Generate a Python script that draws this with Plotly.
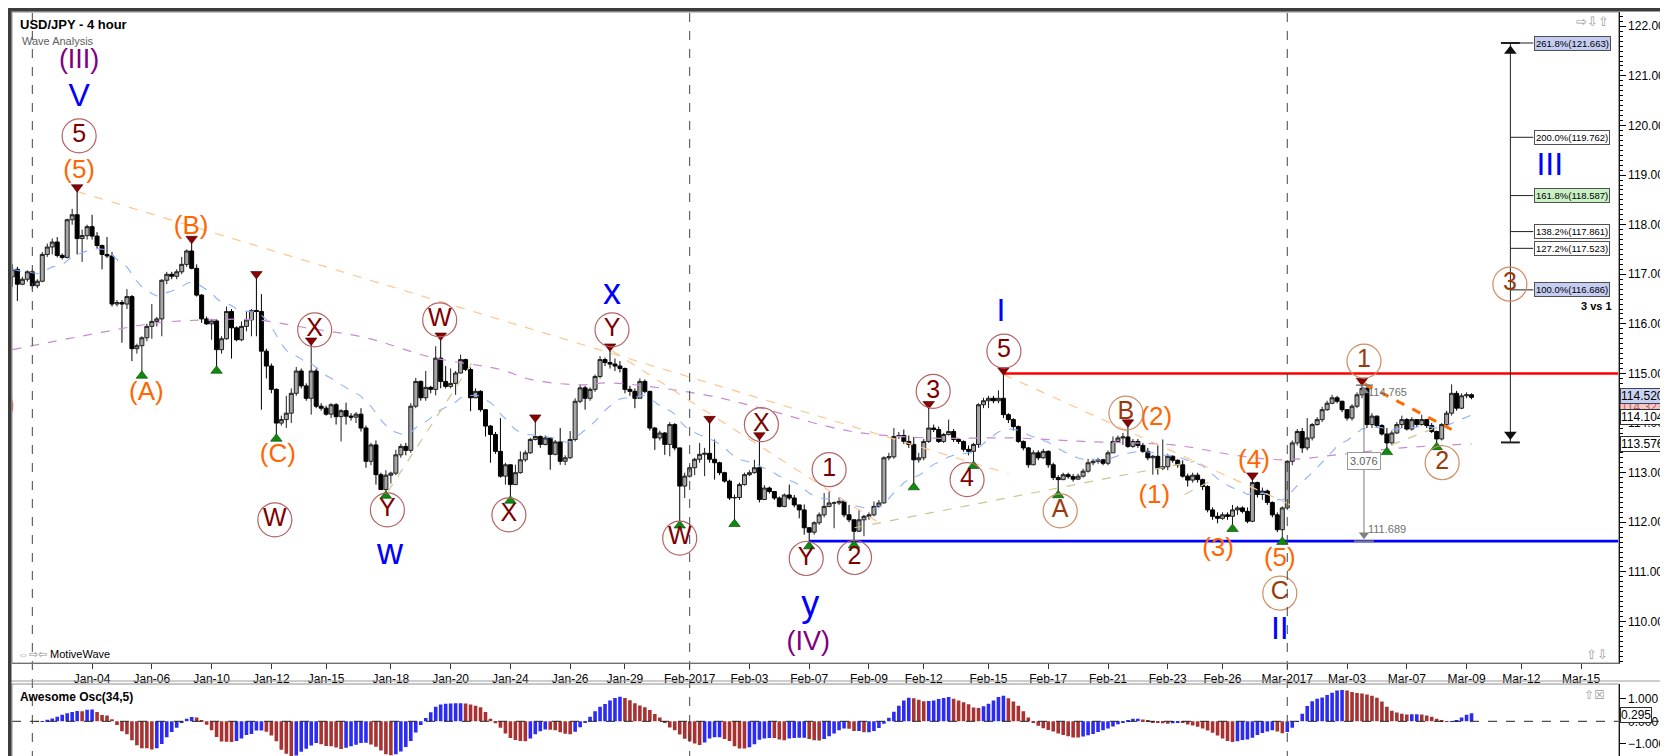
import numpy as np
import pandas as pd
import plotly.graph_objects as go

W, H = 1668, 756
FONT = "Liberation Sans, Arial, sans-serif"

# ---------------- data ----------------
# USD/JPY 4 hour bars, first visible bar Dec-30 08:00, last Mar-09 04:00 (bar index -4 .. 289)
opens = [116.95, 117.10, 116.80, 116.90,
         117.05, 116.77, 116.86, 117.40, 117.55, 117.65, 117.38, 117.34, 118.10, 118.20,
         117.72, 117.78, 117.96, 117.77, 117.58, 117.40, 117.37, 116.40, 116.43, 116.40,
         116.55, 115.50, 115.56, 115.72, 115.95, 116.05, 116.10, 116.88, 117.00, 116.96,
         117.05, 117.20, 117.47, 117.12, 116.58, 116.10, 116.00, 116.06, 115.48, 115.70,
         116.25, 115.92, 115.68, 115.95, 116.08, 116.27, 116.25, 115.45, 115.15, 114.68,
         114.00, 114.07, 114.20, 114.60, 115.05, 114.75, 114.50, 115.05, 114.34, 114.30,
         114.18, 114.37, 114.13, 114.25, 114.14, 114.12, 114.18, 113.90, 113.23, 113.56,
         112.96, 112.66, 112.95, 112.99, 113.36, 113.53, 113.45, 114.34, 114.84, 114.51,
         114.72, 114.68, 115.31, 114.84, 114.74, 114.80, 115.01, 115.28, 115.08, 114.51,
         114.64, 114.27, 113.94, 113.77, 113.43, 112.93, 113.16, 112.76, 113.00, 113.26,
         113.40, 113.67, 113.73, 113.57, 113.70, 113.37, 113.62, 113.23, 113.30, 113.67,
         114.44, 114.71, 114.50, 114.68, 114.94, 115.28, 115.22, 115.19, 115.15, 115.10,
         114.68, 114.64, 114.50, 114.84, 114.64, 113.90, 113.70, 113.80, 113.57, 113.97,
         113.50, 112.73, 112.93, 113.10, 113.27, 113.37, 113.39, 113.27, 113.20, 113.00,
         112.83, 112.49, 112.50, 112.76, 112.96, 113.00, 113.10, 112.46, 112.69, 112.62,
         112.49, 112.32, 112.55, 112.49, 112.35, 112.25, 111.89, 111.80, 111.99, 112.15,
         112.32, 112.39, 112.39, 112.42, 112.15, 112.05, 111.82, 112.05, 112.12, 112.15,
         112.32, 112.39, 113.30, 113.32, 113.73, 113.75, 113.63, 113.57, 113.26, 113.30,
         113.63, 113.90, 113.87, 113.63, 113.77, 113.83, 113.67, 113.63, 113.47, 113.43,
         113.57, 114.37, 114.45, 114.50, 114.45, 114.50, 114.17, 114.07, 113.93, 113.63,
         113.50, 113.16, 113.40, 113.30, 113.43, 113.16, 112.90, 112.86, 112.96, 112.92,
         112.87, 112.93, 113.03, 113.20, 113.23, 113.26, 113.19, 113.40, 113.63, 113.70,
         113.72, 113.53, 113.63, 113.55, 113.43, 113.30, 113.33, 113.09, 113.12, 113.33,
         113.25, 113.16, 112.93, 112.85, 112.95, 112.86, 112.72, 112.25, 112.12, 112.08,
         112.15, 112.12, 112.25, 112.29, 112.22, 112.02, 112.80, 112.56, 112.63, 112.40,
         112.15, 111.85, 112.29, 113.23, 113.60, 113.83, 113.50, 113.70, 113.97, 114.07,
         114.27, 114.40, 114.51, 114.44, 114.27, 114.10, 114.34, 114.57, 114.70, 113.97,
         114.14, 113.95, 113.78, 113.60, 113.80, 113.97, 114.07, 113.88, 114.07, 113.97,
         114.07, 113.95, 113.83, 113.68, 113.97, 114.20, 114.60, 114.30, 114.55, 114.57]
highs = [117.20, 117.15, 116.95, 117.08,
         117.10, 116.90, 117.45, 117.62, 117.72, 117.75, 117.42, 118.12, 118.32, 118.67,
         117.90, 118.00, 118.20, 117.85, 117.60, 117.75, 117.45, 116.48, 116.48, 116.70,
         116.58, 115.60, 115.75, 116.00, 116.40, 116.14, 116.90, 117.05, 117.05, 117.10,
         117.35, 117.50, 117.63, 117.20, 116.60, 116.15, 116.10, 116.10, 115.75, 116.35,
         116.30, 115.95, 116.05, 116.25, 116.30, 116.92, 116.60, 115.50, 115.20, 114.70,
         114.15, 114.55, 114.70, 115.13, 115.10, 114.80, 115.58, 115.10, 114.40, 114.35,
         114.40, 114.40, 114.28, 114.41, 114.20, 114.22, 114.30, 113.95, 113.60, 113.65,
         113.00, 113.05, 113.02, 113.46, 113.58, 113.60, 114.40, 114.91, 114.86, 115.05,
         114.75, 115.55, 115.68, 115.15, 115.10, 115.05, 115.38, 115.30, 115.12, 114.70,
         114.66, 114.28, 113.96, 113.82, 114.10, 113.20, 113.16, 113.16, 113.43, 113.45,
         113.70, 114.03, 113.75, 113.75, 113.72, 113.66, 113.90, 113.35, 113.84, 114.50,
         114.78, 114.75, 114.72, 114.98, 115.35, 115.32, 115.46, 115.30, 115.25, 115.12,
         114.75, 114.70, 114.90, 114.88, 114.65, 113.92, 113.85, 113.82, 114.02, 114.00,
         113.50, 113.00, 113.15, 113.30, 113.60, 113.50, 114.00, 113.67, 113.22, 113.02,
         112.86, 112.56, 112.80, 113.00, 113.05, 113.26, 113.67, 112.75, 112.72, 112.63,
         112.52, 112.58, 112.76, 112.55, 112.35, 112.36, 111.90, 112.02, 112.20, 112.59,
         112.62, 112.42, 112.50, 112.45, 112.35, 112.05, 112.25, 112.15, 112.20, 112.42,
         112.45, 113.33, 113.40, 113.90, 113.82, 113.87, 113.75, 113.72, 113.40, 113.68,
         114.30, 113.97, 113.93, 113.80, 114.07, 113.88, 113.70, 113.65, 113.55, 113.60,
         114.40, 114.51, 114.55, 114.55, 114.66, 114.98, 114.20, 114.10, 113.95, 113.65,
         113.52, 113.45, 113.45, 113.48, 113.45, 113.20, 112.95, 113.00, 113.00, 112.97,
         112.98, 113.08, 113.28, 113.28, 113.30, 113.28, 113.45, 113.73, 113.75, 113.80,
         113.93, 113.68, 113.68, 113.60, 113.50, 113.36, 113.55, 113.67, 113.38, 113.35,
         113.27, 113.25, 112.98, 113.00, 113.00, 112.88, 112.75, 112.30, 112.20, 112.20,
         112.20, 112.35, 112.33, 112.32, 112.30, 112.86, 112.82, 112.70, 112.66, 112.42,
         112.20, 112.32, 113.25, 113.65, 113.88, 113.90, 114.10, 114.00, 114.12, 114.33,
         114.45, 114.57, 114.55, 114.45, 114.28, 114.38, 114.62, 114.77, 114.75, 114.20,
         114.15, 113.98, 113.90, 113.85, 114.02, 114.15, 114.10, 114.12, 114.08, 114.17,
         114.08, 114.00, 113.85, 114.00, 114.25, 114.78, 114.65, 114.60, 114.62, 114.60]
lows = [116.75, 116.46, 116.78, 116.85,
        116.70, 116.72, 116.84, 117.35, 117.40, 117.34, 117.30, 117.32, 118.00, 117.40,
        117.25, 117.70, 117.70, 117.53, 117.10, 117.33, 116.35, 116.35, 115.62, 116.30,
        115.25, 115.40, 115.04, 115.65, 115.70, 115.95, 115.75, 116.80, 116.90, 116.90,
        117.00, 117.15, 117.10, 116.55, 116.02, 115.98, 115.68, 115.14, 115.40, 115.68,
        115.30, 115.65, 115.65, 115.85, 115.75, 115.75, 114.27, 114.90, 114.60, 113.77,
        113.95, 113.90, 114.00, 114.55, 114.70, 114.45, 114.17, 114.30, 114.25, 114.15,
        114.10, 113.97, 113.63, 113.97, 114.05, 114.00, 113.83, 113.10, 113.15, 112.76,
        112.65, 112.62, 112.78, 112.95, 113.30, 113.35, 113.40, 114.30, 114.45, 114.45,
        114.60, 114.56, 114.70, 114.70, 114.70, 114.57, 115.00, 115.05, 114.24, 114.50,
        114.23, 113.73, 113.20, 113.38, 112.90, 112.76, 112.52, 112.75, 112.98, 113.22,
        113.38, 113.65, 113.50, 113.55, 113.06, 113.35, 113.16, 113.15, 113.28, 113.63,
        114.40, 114.27, 114.45, 114.63, 114.90, 115.15, 115.10, 115.05, 115.02, 114.60,
        114.55, 114.30, 114.50, 114.60, 113.85, 113.46, 113.65, 113.36, 113.33, 113.45,
        112.02, 112.49, 112.90, 112.95, 113.20, 112.93, 113.20, 112.86, 112.95, 112.80,
        112.45, 112.05, 112.45, 112.74, 112.93, 112.98, 112.40, 112.45, 112.58, 112.45,
        112.30, 112.30, 112.45, 112.30, 112.08, 111.75, 111.60, 111.75, 111.95, 112.10,
        112.30, 111.88, 112.35, 112.10, 112.00, 111.62, 111.80, 111.72, 112.05, 112.12,
        112.30, 112.38, 113.25, 113.28, 113.68, 113.58, 113.50, 112.79, 113.20, 113.25,
        113.60, 113.82, 113.60, 113.60, 113.75, 113.62, 113.58, 113.42, 113.35, 113.22,
        113.50, 114.30, 114.30, 114.40, 114.40, 114.10, 114.00, 113.85, 113.60, 113.45,
        113.10, 113.15, 113.25, 113.28, 113.10, 112.85, 112.63, 112.85, 112.88, 112.82,
        112.85, 112.90, 113.00, 113.15, 113.18, 113.15, 113.15, 113.40, 113.60, 113.56,
        113.50, 113.50, 113.50, 113.40, 113.25, 112.96, 112.96, 113.05, 113.05, 113.20,
        113.10, 112.90, 112.72, 112.80, 112.80, 112.65, 112.20, 112.05, 111.98, 112.05,
        112.05, 111.95, 112.15, 112.18, 111.98, 112.00, 112.50, 112.45, 112.35, 112.10,
        111.80, 111.69, 112.25, 113.15, 113.55, 113.40, 113.45, 113.65, 113.95, 114.02,
        114.25, 114.38, 114.40, 114.22, 114.05, 114.05, 114.30, 114.50, 113.90, 113.90,
        113.90, 113.75, 113.50, 113.55, 113.78, 113.90, 113.85, 113.85, 113.92, 113.95,
        113.90, 113.80, 113.60, 113.65, 113.95, 114.15, 114.25, 114.28, 114.50, 114.48]
closes = [117.10, 116.80, 116.90, 117.05,
          116.77, 116.86, 117.40, 117.55, 117.65, 117.38, 117.34, 118.10, 118.20, 117.72,
          117.78, 117.96, 117.77, 117.58, 117.40, 117.37, 116.40, 116.43, 116.40, 116.55,
          115.50, 115.56, 115.72, 115.95, 116.05, 116.10, 116.88, 117.00, 116.96, 117.05,
          117.20, 117.47, 117.12, 116.58, 116.10, 116.00, 116.06, 115.48, 115.70, 116.25,
          115.92, 115.68, 115.95, 116.08, 116.27, 116.25, 115.45, 115.15, 114.68, 114.00,
          114.07, 114.20, 114.60, 115.05, 114.75, 114.50, 115.05, 114.34, 114.30, 114.18,
          114.37, 114.13, 114.25, 114.14, 114.12, 114.18, 113.90, 113.23, 113.56, 112.96,
          112.66, 112.95, 112.99, 113.36, 113.53, 113.45, 114.34, 114.84, 114.51, 114.72,
          114.68, 115.31, 114.84, 114.74, 114.80, 115.01, 115.28, 115.08, 114.51, 114.64,
          114.27, 113.94, 113.77, 113.43, 112.93, 113.16, 112.76, 113.00, 113.26, 113.40,
          113.67, 113.73, 113.57, 113.70, 113.37, 113.62, 113.23, 113.30, 113.67, 114.44,
          114.71, 114.50, 114.68, 114.94, 115.28, 115.22, 115.19, 115.15, 115.10, 114.68,
          114.64, 114.50, 114.84, 114.64, 113.90, 113.70, 113.80, 113.57, 113.97, 113.50,
          112.73, 112.93, 113.10, 113.27, 113.37, 113.39, 113.27, 113.20, 113.00, 112.83,
          112.49, 112.50, 112.76, 112.96, 113.00, 113.10, 112.46, 112.69, 112.62, 112.49,
          112.32, 112.55, 112.49, 112.35, 112.25, 111.89, 111.80, 111.99, 112.15, 112.32,
          112.39, 112.39, 112.42, 112.15, 112.05, 111.82, 112.05, 112.12, 112.15, 112.32,
          112.39, 113.30, 113.32, 113.73, 113.75, 113.63, 113.57, 113.26, 113.30, 113.63,
          113.90, 113.87, 113.63, 113.77, 113.83, 113.67, 113.63, 113.47, 113.43, 113.57,
          114.37, 114.45, 114.50, 114.45, 114.50, 114.17, 114.07, 113.93, 113.63, 113.50,
          113.16, 113.40, 113.30, 113.43, 113.16, 112.90, 112.86, 112.96, 112.92, 112.87,
          112.93, 113.03, 113.20, 113.23, 113.26, 113.19, 113.40, 113.63, 113.70, 113.72,
          113.53, 113.63, 113.55, 113.43, 113.30, 113.33, 113.09, 113.12, 113.33, 113.25,
          113.16, 112.93, 112.85, 112.95, 112.86, 112.72, 112.25, 112.12, 112.08, 112.15,
          112.12, 112.25, 112.29, 112.22, 112.02, 112.80, 112.56, 112.63, 112.40, 112.15,
          111.85, 112.29, 113.23, 113.60, 113.83, 113.50, 113.70, 113.97, 114.07, 114.27,
          114.40, 114.51, 114.44, 114.27, 114.10, 114.34, 114.57, 114.70, 113.97, 114.14,
          113.95, 113.78, 113.60, 113.80, 113.97, 114.07, 113.88, 114.07, 113.97, 114.07,
          113.95, 113.83, 113.68, 113.97, 114.20, 114.60, 114.30, 114.55, 114.57, 114.52]

# bars carrying the red (top) and green (bottom) swing triangles
peak_bars = [9, 32, 45, 56, 82, 101, 116, 136, 146, 180, 195, 220, 245, 267]
trough_bars = [22, 37, 49, 71, 96, 130, 141, 156, 165, 177, 189, 206, 241, 251, 272, 282]

# slow moving average (purple dashed), read at a few bars
slow_ma_bars = [-4, 15, 25, 35, 45, 55, 67, 80, 94, 100, 110, 116, 135, 146, 164,
                180, 197, 211, 230, 241, 251, 262, 275, 289]
slow_ma_vals = [115.48, 115.85, 116.02, 116.08, 116.08, 115.92, 115.72, 115.33, 115.08,
                114.88, 114.77, 114.81, 114.57, 114.31, 113.84, 113.70, 113.70, 113.63,
                113.55, 113.36, 113.26, 113.36, 113.50, 113.58]

# date axis (bar index of each label)
tick_bars = [12, 24, 36, 48, 59, 72, 84, 96, 108, 119, 132, 144, 156, 168, 179, 192,
             204, 216, 228, 239, 252, 264, 276, 288, 299, 311]
tick_text = ["Jan-04", "Jan-06", "Jan-10", "Jan-12", "Jan-15", "Jan-18", "Jan-20",
             "Jan-24", "Jan-26", "Jan-29", "Feb-2017", "Feb-03", "Feb-07", "Feb-09",
             "Feb-12", "Feb-15", "Feb-17", "Feb-21", "Feb-23", "Feb-26", "Mar-2017",
             "Mar-03", "Mar-07", "Mar-09", "Mar-12", "Mar-15"]
month_bars = [0, 132, 252]

# fibonacci extension (wave 3 vs wave 1)
fib_pct = ["100.0%", "127.2%", "138.2%", "161.8%", "200.0%", "261.8%"]
fib_levels = [116.686, 117.523, 117.861, 118.587, 119.762, 121.663]
fib_base = 113.61
wave1_top, wave1_bottom = 114.765, 111.689
resistance, support = 115.0, 111.62

# ---------------- helpers / derived ----------------
bars = np.arange(len(closes)) - 4
o, h, l, c = (np.array(v) for v in (opens, highs, lows, closes))
fast_ma = pd.Series(c).ewm(span=20, adjust=False).mean()
median = pd.Series((h + l) / 2)
ao = median.rolling(5, min_periods=1).mean() - median.rolling(34, min_periods=1).mean()
ao_col = np.where(ao.diff().fillna(0) >= 0, "#2b2bf5", "#a83232")


def px(x):
    return x / W


def py(y):
    return 1 - y / H


X0, X1 = -4.08, 318.55
Y0, Y1 = 109.163, 122.288

fig = go.Figure()

# moving averages
fig.add_trace(go.Scatter(x=slow_ma_bars, y=slow_ma_vals, mode="lines", line_shape="spline",
                         line=dict(color="#c98ad0", width=1.2, dash="dash"), hoverinfo="skip"))
fig.add_trace(go.Scatter(x=bars, y=fast_ma, mode="lines",
                         line=dict(color="#8fb0ff", width=1.1, dash="dash"), hoverinfo="skip"))


def seg(x, y, color, width=1, dash=None, xa="x", ya="y"):
    fig.add_trace(go.Scatter(x=x, y=y, mode="lines", xaxis=xa, yaxis=ya, hoverinfo="skip",
                             line=dict(color=color, width=width, dash=dash)))


# trend lines
peach = "#ffc58f"
olive = "#cfc58e"
seg([9, 196], [118.67, 112.98], peach, 1.2, "dash")
seg([116.4, 170], [115.46, 111.99], peach, 1.2, "dash")
seg([195, 254], [114.98, 112.29], peach, 1.2, "dash")
seg([71.4, 88.7], [112.62, 115.28], olive, 1.2, "dash")
seg([165.1, 233.4], [111.89, 113.23], olive, 1.2, "dash")
seg([231.4, 236.7], [112.56, 112.84], olive, 1.2, "dash")
seg([272.9, 281.6], [113.56, 113.90], olive, 1.2, "dash")

# horizontal support / resistance
seg([195, X1], [resistance, resistance], "#ff0000", 2.6)
seg([156, X1], [support, support], "#0000ff", 2.6)

# candles
fig.add_trace(go.Candlestick(
    x=bars, open=o, high=h, low=l, close=c, whiskerwidth=0,
    increasing=dict(line=dict(color="#1e1e1e", width=1), fillcolor="#a6a6a6"),
    decreasing=dict(line=dict(color="#000000", width=1), fillcolor="#000000"),
    hoverinfo="skip", showlegend=False))

# swing triangles
pk = np.array(peak_bars)
tr = np.array(trough_bars)
fig.add_trace(go.Scatter(x=pk, y=h[pk + 4] + 0.085, mode="markers", hoverinfo="skip",
                         marker=dict(symbol="triangle-down", size=10, color="#8b0000",
                                     line=dict(color="#3a0000", width=0.6))))
fig.add_trace(go.Scatter(x=tr, y=l[tr + 4] - 0.085, mode="markers", hoverinfo="skip",
                         marker=dict(symbol="triangle-up", size=10, color="#0f8a0f",
                                     line=dict(color="#004000", width=0.6))))

# wave 3 target dashed break line
seg([267.5, 285], [114.79, 113.87], "#ff6a00", 3, "dash")

# wave 1 measure
seg([267.4, 267.4], [wave1_top - 0.05, wave1_bottom], "#7a7a7a", 1)
seg([265.8, 269.2], [wave1_top, wave1_top], "#7a7a7a", 1.5)
seg([265.4, 269.4], [wave1_bottom - 0.07, wave1_bottom - 0.07], "#7a7a7a", 1.5)
fig.add_trace(go.Scatter(x=[267.4, 267.4], y=[wave1_top - 0.12, wave1_bottom + 0.06],
                         mode="markers", hoverinfo="skip",
                         marker=dict(symbol=["triangle-up", "triangle-down"], size=9,
                                     color="#808080")))

# fibonacci arrow
arrow_x = 296.8
seg([arrow_x, arrow_x], [fib_base, fib_levels[-1]], "#202020", 1)
seg([294.9, 298.7], [fib_levels[-1], fib_levels[-1]], "#202020", 2)
seg([294.9, 298.7], [fib_base, fib_base], "#202020", 2)
for lev in fib_levels:
    seg([arrow_x, 301.4], [lev, lev], "#202020", 1)
fig.add_trace(go.Scatter(x=[arrow_x, arrow_x], y=[fib_levels[-1] - 0.16, fib_base + 0.16],
                         mode="markers", hoverinfo="skip",
                         marker=dict(symbol=["triangle-up", "triangle-down"], size=11,
                                     color="#101010")))

# ---------------- wave labels ----------------
ORANGE, MAROON, SIENNA, BLUE, PURPLE = "#ff6600", "#7d0000", "#9a3a0c", "#0000ff", "#800080"


def label(x, y, text, color, size=26):
    fig.add_trace(go.Scatter(x=[x], y=[y], mode="text", text=[text], hoverinfo="skip",
                             textposition="middle center",
                             textfont=dict(family=FONT, size=size, color=color)))


def circled(x, y, text, color, ring):
    fig.add_trace(go.Scatter(x=[x], y=[y], mode="markers+text", text=[text], hoverinfo="skip",
                             textposition="middle center",
                             textfont=dict(family=FONT, size=25, color=color),
                             marker=dict(size=34, color="rgba(255,255,255,0)",
                                         line=dict(color=ring, width=1.2))))


label(9.4, 121.30, "(III)", PURPLE, 27)
label(9.4, 120.55, "V", BLUE, 32)
label(9.4, 119.08, "(5)", ORANGE)
label(31.9, 117.95, "(B)", ORANGE)
label(22.9, 114.60, "(A)", ORANGE)
label(49.3, 113.34, "(C)", ORANGE)
label(-6.7, 114.34, "(4)", ORANGE)
label(71.8, 111.34, "w", BLUE, 36)
label(116.4, 116.58, "x", BLUE, 36)
label(156.2, 110.30, "y", BLUE, 36)
label(155.8, 109.56, "(IV)", PURPLE, 27)
label(194.5, 116.22, "I", BLUE, 32)
label(225.7, 114.10, "(2)", ORANGE)
label(225.3, 112.52, "(1)", ORANGE)
label(238.1, 111.46, "(3)", ORANGE)
label(245.3, 113.23, "(4)", ORANGE)
label(250.5, 111.25, "(5)", ORANGE)
label(250.5, 109.80, "II", BLUE, 32)
label(304.7, 119.16, "III", BLUE, 32)

mring = "#b46464"
for x, y, t in [(9.4, 119.79, "5"), (48.7, 112.05, "W"), (56.7, 115.88, "X"),
                (71.3, 112.25, "Y"), (81.8, 116.08, "W"), (95.7, 112.15, "X"),
                (116.4, 115.88, "Y"), (130.0, 111.68, "W"), (146.4, 113.97, "X"),
                (160.0, 113.06, "1"), (155.4, 111.27, "Y"), (165.1, 111.29, "2"),
                (180.9, 114.64, "3"), (187.7, 112.86, "4"), (195.1, 115.45, "5")]:
    circled(x, y, t, MAROON, mring)
sring = "#cf8d63"
for x, y, t in [(206.4, 112.23, "A"), (219.6, 114.20, "B"), (250.5, 110.57, "C"),
                (267.4, 115.25, "1"), (283.1, 113.20, "2"), (296.7, 116.80, "3")]:
    circled(x, y, t, SIENNA, sring)

# ---------------- oscillator ----------------
fig.add_trace(go.Bar(x=bars, y=ao, width=0.72, marker=dict(color=ao_col, line=dict(width=0)),
                     xaxis="x2", yaxis="y2", hoverinfo="skip"))

# ---------------- annotations ----------------
ann = []


def note(x, y, text, size=11, color="#000", xref="paper", yref="paper", xanchor="left",
         bg=None, border=None, bold=False, pad=1):
    d = dict(x=x, y=y, xref=xref, yref=yref, text=f"<b>{text}</b>" if bold else text,
             showarrow=False, xanchor=xanchor, yanchor="middle",
             font=dict(family=FONT, size=size, color=color))
    if bg:
        d.update(bgcolor=bg, bordercolor=border or "#404040", borderwidth=1, borderpad=pad)
    ann.append(d)


note(px(10), py(16), "USD/JPY - 4 hour", 13, bold=True)
note(px(12), py(33), "Wave Analysis", 11, "#606060")
note(px(8), py(646), "<span style='color:#8a8a8a'>⇔⇨⇦</span> MotiveWave", 11)
note(px(10), py(689), "Awesome Osc(34,5)", 12, bold=True)
note(px(1566), py(13), "⇨⇩⇧", 13, "#9a9a9a")
note(px(1576), py(646), "⇧⇩", 13, "#9a9a9a")
note(px(1574), py(687), "⇧☒", 12, "#9a9a9a")

note(272.1, 114.63, "114.765", 11, "#707070", "x", "y", "center")
note(272.1, 111.87, "111.689", 11, "#707070", "x", "y", "center")
note(267.4, 113.24, "3.076", 11, "#606060", "x", "y", "center", "#ffffff", "#9a9a9a", pad=2)

fib_bg = {"100.0%": "#c6cdf2", "161.8%": "#c9f2c4", "261.8%": "#c6cdf2"}
for pct, lev in zip(fib_pct, fib_levels):
    note(309.2, lev, f"{pct}({lev:.3f})", 9.5, "#000", "x", "y", "center",
         fib_bg.get(pct, "#ffffff"), "#505050", pad=1)
note(314.0, 116.37, "3 vs 1", 11, bold=True, xref="x", yref="y", xanchor="center")

note(px(1612), 114.33, "114.323", 12, "#c06060", "paper", "y", "left", "#f6c9c9", "#c07070", pad=0)
note(px(1612), 114.54, "114.520", 12, "#000", "paper", "y", "left", "#c9d2ef", "#404060", pad=0)
note(px(1612), 114.12, "114.104", 12, "#000", "paper", "y", "left", "#ffffff", "#303030", pad=0)
note(px(1612), 113.576, "113.576", 12, "#000", "paper", "y", "left", "#ffffff", "#303030", pad=0)
note(px(1612), 0.295, "0.295", 12, "#000", "paper", "y2", "left", "#ffffff", "#303030", pad=0)

# ---------------- shapes ----------------
shapes = []
for mb in month_bars:
    shapes.append(dict(type="line", xref="x", yref="paper", x0=mb, x1=mb, y0=py(752), y1=py(4),
                       line=dict(color="#444", width=1, dash="dash")))
shapes.append(dict(type="line", xref="paper", yref="y2", x0=px(4), x1=px(1660), y0=0, y1=0,
                   line=dict(color="#222", width=1, dash="dash")))
for y0, y1 in [(655, 4), (752, 676)]:
    shapes.append(dict(type="rect", xref="paper", yref="paper", x0=px(4), x1=px(1610.7),
                       y0=py(y0), y1=py(y1), line=dict(color="#8c8c8c", width=1)))
shapes.append(dict(type="line", xref="paper", yref="paper", x0=0, x1=1, y0=py(673), y1=py(673),
                   line=dict(color="#9a9a9a", width=1)))
shapes.append(dict(type="line", xref="paper", yref="paper", x0=px(1665), x1=px(1665),
                   y0=0, y1=1, line=dict(color="#9a9a9a", width=1)))
shapes.append(dict(type="rect", xref="paper", yref="paper", x0=0, x1=1, y0=0, y1=1,
                   line=dict(color="#3c3c3c", width=7)))

fig.update_layout(
    width=W, height=H, margin=dict(l=0, r=0, t=0, b=0),
    paper_bgcolor="#ffffff", plot_bgcolor="#ffffff", showlegend=False,
    font=dict(family=FONT, size=12, color="#000"),
    boxgap=0.2, boxgroupgap=0,
    annotations=ann, shapes=shapes,
    xaxis=dict(domain=[px(4), px(1610.7)], range=[X0, X1], anchor="y",
               tickmode="array", tickvals=tick_bars, ticktext=tick_text,
               ticks="outside", ticklen=5, tickcolor="#333", showline=True, linecolor="#555",
               showgrid=False, zeroline=False, rangeslider=dict(visible=False),
               tickfont=dict(size=12)),
    yaxis=dict(domain=[py(655), py(4)], range=[Y0, Y1], side="right", anchor="x",
               tickformat=".3f", tick0=0, dtick=1, ticks="outside", ticklen=6,
               tickcolor="#000", showline=True, linecolor="#000", showgrid=False,
               zeroline=False, tickfont=dict(size=12),
               minor=dict(dtick=0.1, ticks="outside", ticklen=3, tickcolor="#000")),
    xaxis2=dict(domain=[px(4), px(1610.7)], range=[X0, X1], anchor="y2", showticklabels=False,
                ticks="", showgrid=False, zeroline=False, showline=False),
    yaxis2=dict(domain=[py(752), py(676)], range=[-1.72, 1.658], side="right", anchor="x2",
                tickmode="array", tickvals=[-1, 0, 1], tickformat=".3f", ticks="outside",
                ticklen=6, tickcolor="#000", showline=True, linecolor="#000", showgrid=False,
                zeroline=False, tickfont=dict(size=12)),
)

fig.write_html("out.html")
